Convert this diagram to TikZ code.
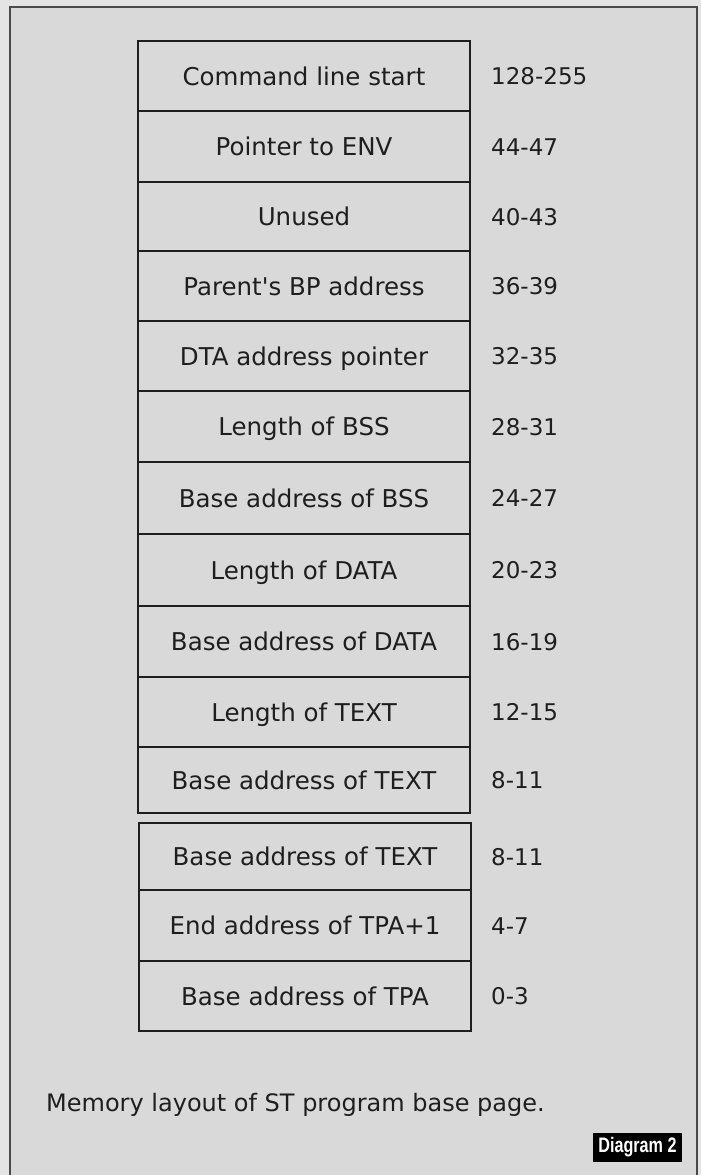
\documentclass[tikz,border=0pt]{standalone}
\usepackage{fontspec}
\setmainfont{DejaVu Sans}[Ligatures=TeXOff]
\newfontfamily\labelfont{Liberation Sans}
\definecolor{outerbg}{HTML}{E4E4E4}
\definecolor{innerbg}{HTML}{D9D9DA}
\definecolor{framecol}{HTML}{4A4A4A}
\definecolor{inkcol}{HTML}{1E1E1E}
\tikzset{
  rowbox/.style={draw=inkcol, line width=2pt, minimum width=332pt, inner sep=0pt,
    font=\fontsize{24.5}{27}\selectfont, text=inkcol, text height=18pt, text depth=0pt},
  numtext/.style={anchor=west, inner sep=0pt, font=\fontsize{23}{26}\selectfont,
    text=inkcol, text height=17pt, text depth=0pt},
}
\begin{document}
\begin{tikzpicture}[x=1pt, y=-1pt]
\useasboundingbox (0,0) rectangle (701,1175);
\fill[outerbg] (0,0) rectangle (701,1175);
\draw[framecol, line width=2.5pt, fill=innerbg] (10,7) rectangle (697,1178);
% first block
\node[rowbox, minimum height=70pt] (r1) at (304,76) {Command line start};
\node[rowbox, minimum height=71pt] (r2) at (304,146.5) {Pointer to ENV};
\node[rowbox, minimum height=69pt] (r3) at (304,216.5) {Unused};
\node[rowbox, minimum height=70pt] (r4) at (304,286) {Parent's BP address};
\node[rowbox, minimum height=70pt] (r5) at (304,356) {DTA address pointer};
\node[rowbox, minimum height=71pt] (r6) at (304,426.5) {Length of BSS};
\node[rowbox, minimum height=72pt] (r7) at (304,498) {Base address of BSS};
\node[rowbox, minimum height=72pt] (r8) at (304,570) {Length of DATA};
\node[rowbox, minimum height=71pt] (r9) at (304,641.5) {Base address of DATA};
\node[rowbox, minimum height=70pt] (r10) at (304,712) {Length of TEXT};
\node[rowbox, minimum height=66pt] (r11) at (304,780) {Base address of TEXT};
% second block
\node[rowbox, minimum height=67pt] (r12) at (305,856.5) {Base address of TEXT};
\node[rowbox, minimum height=71pt] (r13) at (305,925.5) {End address of TPA+1};
\node[rowbox, minimum height=70pt] (r14) at (305,996) {Base address of TPA};
% numbers
\node[numtext] (n1) at (491,76) {128-255};
\node[numtext] (n2) at (491,146.5) {44-47};
\node[numtext] (n3) at (491,216.5) {40-43};
\node[numtext] (n4) at (491,286) {36-39};
\node[numtext] (n5) at (491,356) {32-35};
\node[numtext] (n6) at (491,426.5) {28-31};
\node[numtext] (n7) at (491,498) {24-27};
\node[numtext] (n8) at (491,570) {20-23};
\node[numtext] (n9) at (491,641.5) {16-19};
\node[numtext] (n10) at (491,712) {12-15};
\node[numtext] (n11) at (491,780) {8-11};
\node[numtext] (n12) at (491,856.5) {8-11};
\node[numtext] (n13) at (491,925.5) {4-7};
\node[numtext] (n14) at (491,996) {0-3};
% caption
\node[numtext, font=\fontsize{24}{27}\selectfont] (cap) at (46,1103) {Memory layout of ST program base page.};
% diagram label
\node[fill=black, text=white, inner sep=0pt, minimum width=89pt, minimum height=29pt,
  font=\labelfont\bfseries\fontsize{21}{24}\selectfont] (lbl) at (637.5,1147.5)
  {\scalebox{0.77}[1]{Diagram 2}};
\end{tikzpicture}
\end{document}
